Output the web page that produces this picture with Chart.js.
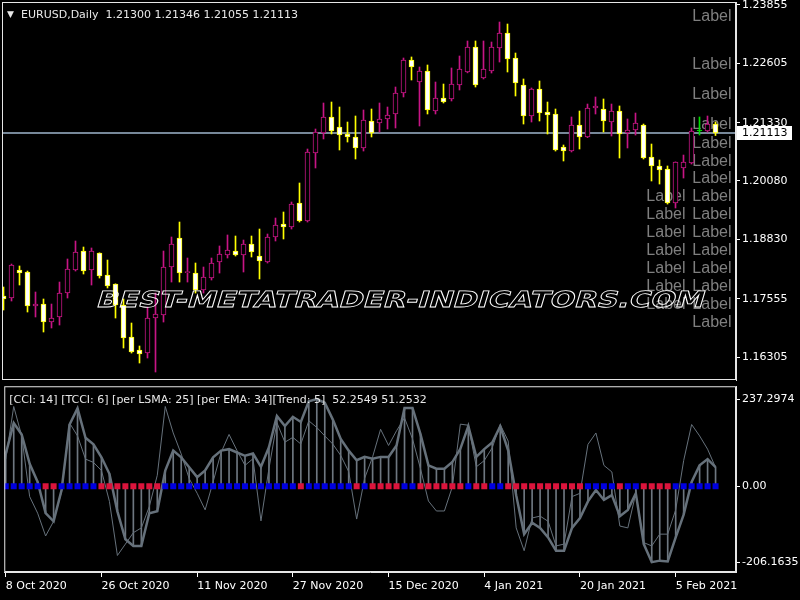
<!DOCTYPE html>
<html>
<head>
<meta charset="utf-8">
<script src="https://cdn.jsdelivr.net/npm/chart.js@4.4.0/dist/chart.umd.min.js"></script>
<style>
  html, body { margin: 0; padding: 0; background: #000; }
  #wrap { position: relative; width: 800px; height: 600px; background: #000; overflow: hidden; }
  #price { position: absolute; left: 0; top: 0; }
  #osc { position: absolute; left: 0; top: 382px; }
</style>
</head>
<body>
<div id="wrap">
  <canvas id="price" width="800" height="382"></canvas>
  <canvas id="osc" width="800" height="218"></canvas>
</div>
<script>
// EURUSD daily candles, 8 Oct 2020 .. 12 Feb 2021 (bar index 0..89)
const opens = [1.17613,1.17570,1.18171,1.18128,1.17399,1.17441,1.17055,1.17163,1.17677,1.18171,
  1.18578,1.18171,1.18535,1.18063,1.17870,1.17420,1.16734,1.16455,1.16390,1.17141,
  1.17205,1.18235,1.18857,1.18115,1.18106,1.17742,1.17999,1.18342,1.18493,1.18578,
  1.18493,1.18728,1.18471,1.18342,1.18879,1.19157,1.19093,1.19608,1.19222,1.20680,
  1.21109,1.21453,1.21238,1.21088,1.21024,1.20788,1.21367,1.21324,1.21410,1.21517,
  1.21967,1.22675,1.22203,1.22439,1.21581,1.21860,1.21839,1.22139,1.22418,1.22954,
  1.22289,1.22439,1.22933,1.23254,1.22718,1.22139,1.21474,1.22053,1.21560,1.21517,
  1.20809,1.20723,1.21281,1.21024,1.21646,1.21624,1.21345,1.21581,1.21109,1.21174,
  1.21281,1.20595,1.20402,1.20337,1.19608,1.20359,1.20466,1.21152,1.21152,1.21300];
const highs = [1.17806,1.18299,1.18257,1.18149,1.17699,1.17549,1.17441,1.17913,1.18407,1.18793,
  1.18664,1.18643,1.18540,1.18385,1.17875,1.17549,1.17034,1.16541,1.17377,1.17677,
  1.18578,1.18879,1.19200,1.18428,1.18321,1.18235,1.18428,1.18686,1.18922,1.18900,
  1.18814,1.18900,1.19050,1.18943,1.19286,1.19415,1.19629,1.20037,1.20766,1.21195,
  1.21753,1.21774,1.21667,1.21345,1.21474,1.21603,1.21624,1.21753,1.21667,1.22096,
  1.22718,1.22740,1.22525,1.22568,1.22203,1.22160,1.22504,1.22761,1.23083,1.23083,
  1.23083,1.23061,1.23490,1.23447,1.22825,1.22268,1.22075,1.22225,1.21774,1.21624,
  1.20852,1.21453,1.21581,1.21731,1.21882,1.21839,1.21731,1.21689,1.21410,1.21538,
  1.21302,1.20873,1.20530,1.20402,1.20490,1.20637,1.21217,1.21453,1.21474,1.21346];
const lows = [1.17313,1.17506,1.17849,1.17270,1.17163,1.16841,1.16927,1.16991,1.17570,1.18149,
  1.18085,1.17849,1.17999,1.17785,1.17141,1.16498,1.16390,1.16176,1.16283,1.15983,
  1.17055,1.17913,1.17913,1.17913,1.17677,1.17677,1.17956,1.18106,1.18428,1.18471,
  1.18128,1.18450,1.17978,1.18321,1.18793,1.18836,1.19050,1.19200,1.19200,1.20359,
  1.20981,1.21088,1.20745,1.20916,1.20552,1.20723,1.21024,1.21131,1.21195,1.21217,
  1.21882,1.22246,1.21260,1.21517,1.21517,1.21753,1.21796,1.22032,1.22400,1.22096,
  1.22268,1.22396,1.22632,1.22418,1.21903,1.21302,1.21345,1.21367,1.21088,1.20723,
  1.20509,1.20702,1.20766,1.21010,1.21517,1.21131,1.21045,1.20573,1.20788,1.21066,
  1.20552,1.20080,1.20015,1.19586,1.19501,1.20144,1.20444,1.21066,1.21131,1.21055];
const closes = [1.17549,1.18278,1.18106,1.17399,1.17441,1.17055,1.17141,1.17677,1.18192,1.18557,
  1.18149,1.18578,1.18042,1.17827,1.17420,1.16712,1.16412,1.16369,1.17141,1.17227,
  1.18235,1.18728,1.18106,1.18125,1.17742,1.18021,1.18321,1.18514,1.18600,1.18493,
  1.18728,1.18557,1.18364,1.18879,1.19136,1.19093,1.19586,1.19222,1.20702,1.21131,
  1.21453,1.21152,1.21066,1.21024,1.20788,1.21388,1.21109,1.21410,1.21495,1.21967,
  1.22675,1.22525,1.22439,1.21603,1.21860,1.21774,1.22160,1.22482,1.22954,1.22139,
  1.22482,1.22954,1.23254,1.22697,1.22182,1.21474,1.22053,1.21538,1.21495,1.20745,
  1.20723,1.21281,1.21024,1.21646,1.21689,1.21367,1.21581,1.21088,1.21174,1.21324,
  1.20573,1.20402,1.20316,1.19608,1.20487,1.20487,1.21152,1.21152,1.21302,1.21113];

// indicator buffers
const tcci = [88,172,141,61,12,-73,-95,-10,168,212,
  132,114,79,34,-68,-144,-162,-162,-73,-68,
  43,97,79,52,25,43,79,97,101,92,
  83,89,53,106,191,164,189,175,231,237.2974,
  227,182,129,97,71,80,75,80,80,111,
  213,213,142,57,48,48,66,102,164,80,
  101,119,163,97,-24,-130,-99,-113,-139,-175,
  -175,-113,-86,-41,-10,-37,-24,-81,-64,-19,
  -157,-206.1635,-202,-204,-139,-77,12,57,74,52.2549];
const cci = [74,217,137,-28,-73,-135,-95,-15,172,137,
  74,65,43,-41,-188,-157,-126,-113,-55,30,
  217,145,88,21,-19,-64,12,92,141,97,
  57,75,-94,48,173,120,133,115,178,160,
  137,115,84,40,-89,22,80,155,111,151,
  186,129,48,-40,-67,-67,-1,169,166,53,
  70,105,168,123,-113,-175,-86,-81,-95,-162,
  -157,-28,-19,114,145,57,39,-108,-113,-19,
  -153,-162,-130,-130,-64,70,168,137,101,51.2532];
// 1 = up (blue), -1 = down (red)
const trend = [1,1,1,1,1,-1,-1,1,1,1, 1,1,-1,-1,-1,-1,-1,-1,-1,-1,
  1,1,1,1,1,1,1,1,1,1, 1,1,1,1,1,1,1,-1,1,1,
  1,1,1,1,-1,1,-1,-1,-1,-1, 1,1,-1,-1,-1,-1,-1,-1,1,-1,
  -1,1,1,-1,-1,-1,-1,-1,-1,-1, -1,-1,-1,1,1,1,1,-1,1,1,
  -1,-1,-1,-1,1,1,1,1,1,1];

// axis labels
const tickBars = [0, 12, 24, 36, 48, 60, 72, 84];
const tickDates = ['8 Oct 2020', '26 Oct 2020', '11 Nov 2020', '27 Nov 2020',
  '15 Dec 2020', '4 Jan 2021', '20 Jan 2021', '5 Feb 2021'];
const priceTicks = [1.16305, 1.17555, 1.18830, 1.20080, 1.21330, 1.22605, 1.23855];
const oscTicks = [-206.1635, 0, 237.2974];

// text objects "Label" on the chart
const labelPricesRight = [1.23641, 1.22611, 1.21967, 1.21324, 1.20916, 1.20530, 1.20166,
  1.19779, 1.19393, 1.19007, 1.18621, 1.18235, 1.17849, 1.17463, 1.17077];
const labelPricesLeft = [1.19779, 1.19393, 1.19007, 1.18621, 1.18235, 1.17849, 1.17463];
const labelBarRight = 91;
const labelBarLeft = 85.25;

const symbolTitle = 'EURUSD,Daily';
const oscTitle = '[CCI: 14] [TCCI: 6] [per LSMA: 25] [per EMA: 34][Trend: 5]';
const watermark = 'BEST-METATRADER-INDICATORS.COM';

const BULL = '#c71585', BEAR = '#ffff00', DOJI = '#00e000';
const LINE_GRAY = '#66717b';
const last = closes.length - 1;
const xMin = -0.1875, xMax = 91.5625;

Chart.defaults.font.family = '"DejaVu Sans", sans-serif';
Chart.defaults.font.size = 11;
Chart.defaults.color = '#ffffff';

function candleColor(i) {
    if (closes[i] > opens[i]) return BULL;
    if (closes[i] < opens[i]) return BEAR;
    return DOJI;
}
function bodyFill(i) {
    if (closes[i] > opens[i]) return '#000000';
    if (closes[i] < opens[i]) return '#ffffff';
    return DOJI;
}

// keep the plot area where it is, labels may overhang the edges
function noPad(s) {
    s.paddingTop = 0;
    s.paddingBottom = 0;
    s.paddingLeft = 0;
    s.paddingRight = 0;
}

const mainDecor = {
    id: 'mainDecor',
    beforeDatasetsDraw(chart) {
        const { ctx, chartArea: a, scales: { x, y } } = chart;
        ctx.save();
        ctx.font = '16px "Liberation Sans", Arial, sans-serif';
        ctx.fillStyle = '#7f7f7f';
        ctx.textAlign = 'right';
        ctx.textBaseline = 'alphabetic';
        labelPricesRight.forEach(p => ctx.fillText('Label', x.getPixelForValue(labelBarRight), y.getPixelForValue(p) + 6));
        labelPricesLeft.forEach(p => ctx.fillText('Label', x.getPixelForValue(labelBarLeft), y.getPixelForValue(p) + 6));

        // last close line
        const cy = Math.round(y.getPixelForValue(closes[last]));
        ctx.fillStyle = '#778899';
        ctx.fillRect(a.left, cy - 1, a.right - a.left, 2);
        ctx.restore();
    },
    afterDatasetsDraw(chart) {
        const { ctx, chartArea: a } = chart;
        ctx.save();
        // watermark, outlined and slanted
        ctx.font = 'bold 22px "DejaVu Sans", sans-serif';
        const w = ctx.measureText(watermark).width;
        const sx = (a.right - a.left) * 0.828 / w;
        const x0 = a.left + (a.right - a.left) * 0.127;
        const y0 = a.top + (a.bottom - a.top) * 0.807;
        ctx.setTransform(sx, 0, -0.3, 1, x0, y0);
        ctx.strokeStyle = '#ffffff';
        ctx.lineWidth = 0.8;
        ctx.textBaseline = 'alphabetic';
        ctx.strokeText(watermark, 0, 0);
        ctx.restore();

        // symbol title
        ctx.save();
        ctx.fillStyle = '#e8e8e8';
        ctx.textBaseline = 'middle';
        ctx.font = '9px "DejaVu Sans", sans-serif';
        ctx.fillText('\u25BC', a.left + 5, a.top + 13);
        ctx.font = '11px "DejaVu Sans", sans-serif';
        const ohlc = [opens[last], highs[last], lows[last], closes[last]].map(v => v.toFixed(5)).join(' ');
        ctx.fillText(symbolTitle + '  ' + ohlc, a.left + 19, a.top + 13);
        ctx.restore();
    },
    afterDraw(chart) {
        const { ctx, chartArea: a, scales: { y } } = chart;
        ctx.save();
        ctx.strokeStyle = '#e6e6e6';
        ctx.lineWidth = 1;
        ctx.strokeRect(a.left + 0.5, a.top + 0.5, a.right - a.left - 1, a.bottom - a.top - 1);

        // price box on the axis
        const cy = Math.round(y.getPixelForValue(closes[last]));
        ctx.fillStyle = '#ffffff';
        ctx.fillRect(a.right + 1, cy - 7, 55, 14);
        ctx.fillStyle = '#000000';
        ctx.font = '11px "DejaVu Sans", sans-serif';
        ctx.textBaseline = 'middle';
        ctx.fillText(closes[last].toFixed(5), a.right + 6, cy);
        ctx.restore();
    }
};

const oscDecor = {
    id: 'oscDecor',
    afterDraw(chart) {
        const { ctx, chartArea: a } = chart;
        ctx.save();
        ctx.strokeStyle = '#e6e6e6';
        ctx.lineWidth = 1;
        ctx.strokeRect(a.left + 0.5, a.top + 0.5, a.right - a.left - 1, a.bottom - a.top - 1);
        ctx.fillStyle = '#e8e8e8';
        ctx.font = '11px "DejaVu Sans", sans-serif';
        ctx.textBaseline = 'middle';
        ctx.fillText(oscTitle + '  ' + tcci[last].toFixed(4) + ' ' + cci[last].toFixed(4), a.left + 5, a.top + 14);
        ctx.restore();
    }
};

new Chart(document.getElementById('price'), {
    type: 'bar',
    data: {
        datasets: [
            {
                label: 'body',
                data: opens.map((o, i) => ({ x: i, y: [o, closes[i]] })),
                backgroundColor: c => bodyFill(c.dataIndex),
                borderColor: c => candleColor(c.dataIndex),
                borderWidth: 1,
                borderSkipped: false,
                barThickness: 5,
                minBarLength: 1,
                grouped: false,
                order: 0
            },
            {
                label: 'wick',
                data: lows.map((l, i) => ({ x: i, y: [l, highs[i]] })),
                backgroundColor: c => candleColor(c.dataIndex),
                borderWidth: 0,
                barThickness: 1,
                grouped: false,
                order: 1
            }
        ]
    },
    options: {
        responsive: false,
        animation: false,
        devicePixelRatio: 1,
        layout: { padding: { left: 2, top: 2, right: 0, bottom: 2 } },
        plugins: { legend: { display: false }, tooltip: { enabled: false } },
        scales: {
            x: { type: 'linear', display: false, offset: false, min: xMin, max: xMax, afterFit: noPad },
            y: {
                position: 'right',
                min: 1.158117,
                max: 1.239193,
                afterFit: s => { s.width = 64; noPad(s); },
                afterBuildTicks: s => { s.ticks = priceTicks.map(v => ({ value: v })); },
                ticks: { color: '#ffffff', padding: 2, autoSkip: false, callback: v => v.toFixed(5) },
                grid: { drawOnChartArea: false, color: '#ffffff', tickLength: 4 },
                border: { color: '#e6e6e6' }
            }
        }
    },
    plugins: [mainDecor]
});

new Chart(document.getElementById('osc'), {
    type: 'bar',
    data: {
        datasets: [
            {
                type: 'line',
                label: 'trend',
                data: trend.map((t, i) => ({ x: i, y: 0 })),
                showLine: false,
                pointStyle: 'rect',
                pointRadius: 4.25,
                pointBorderWidth: 0,
                pointBackgroundColor: c => trend[c.dataIndex] > 0 ? '#0000e0' : '#dc143c',
                order: 0
            },
            {
                type: 'line',
                label: 'TCCI',
                data: tcci.map((v, i) => ({ x: i, y: v })),
                borderColor: LINE_GRAY,
                borderWidth: 2.5,
                pointRadius: 0,
                tension: 0,
                order: 1
            },
            {
                type: 'line',
                label: 'CCI',
                data: cci.map((v, i) => ({ x: i, y: v })),
                borderColor: LINE_GRAY,
                borderWidth: 1,
                pointRadius: 0,
                tension: 0,
                order: 2
            },
            {
                type: 'bar',
                label: 'hist',
                data: tcci.map((v, i) => ({ x: i, y: v })),
                backgroundColor: '#6e7780',
                barThickness: 1,
                grouped: false,
                order: 3
            }
        ]
    },
    options: {
        responsive: false,
        animation: false,
        devicePixelRatio: 1,
        layout: { padding: { left: 2, top: 1, right: 0, bottom: 0 } },
        plugins: { legend: { display: false }, tooltip: { enabled: false } },
        scales: {
            x: {
                type: 'linear',
                offset: false,
                min: xMin,
                max: xMax,
                afterFit: s => { s.height = 28; noPad(s); },
                afterBuildTicks: s => { s.ticks = tickBars.map(v => ({ value: v })); },
                ticks: {
                    color: '#ffffff', align: 'start', padding: 3, autoSkip: false, maxRotation: 0,
                    callback: v => tickDates[tickBars.indexOf(v)]
                },
                grid: { drawOnChartArea: false, offset: false, color: '#ffffff', tickLength: 5 },
                border: { color: '#e6e6e6' }
            },
            y: {
                position: 'right',
                min: -232.88,
                max: 272.0,
                afterFit: s => { s.width = 64; noPad(s); },
                afterBuildTicks: s => { s.ticks = oscTicks.map(v => ({ value: v })); },
                ticks: { color: '#ffffff', padding: 2, autoSkip: false, callback: v => v === 0 ? '0.00' : v.toFixed(4) },
                grid: { drawOnChartArea: false, color: '#ffffff', tickLength: 4 },
                border: { color: '#e6e6e6' }
            }
        }
    },
    plugins: [oscDecor]
});
</script>
</body>
</html>
